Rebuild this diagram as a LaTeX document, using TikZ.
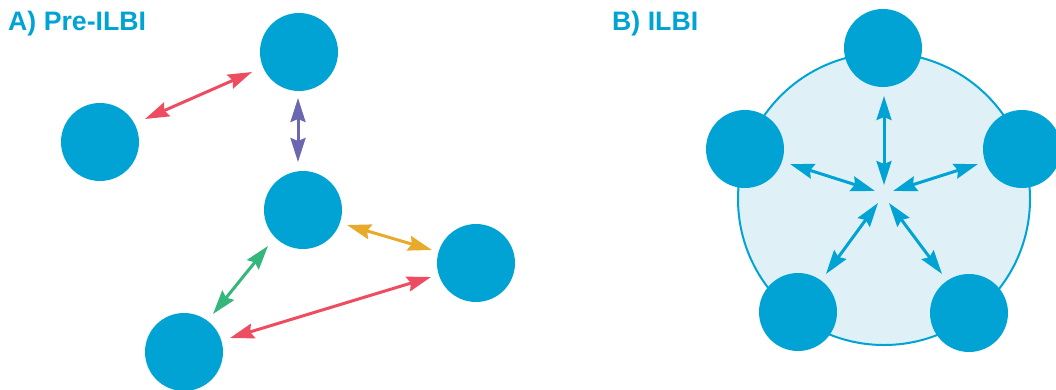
\documentclass[tikz,border=0pt]{standalone}
\usepackage{fontspec}
\setmainfont{Liberation Sans}
\usetikzlibrary{arrows.meta}
\definecolor{nodeblue}{HTML}{00A3D4}
\definecolor{lightfill}{HTML}{DFF1F6}
\definecolor{redarr}{HTML}{EE4C60}
\definecolor{purplearr}{HTML}{6B67B0}
\definecolor{orangearr}{HTML}{E8AA2A}
\definecolor{greenarr}{HTML}{35B67B}
\begin{document}
\begin{tikzpicture}[x=1pt,y=-1pt,
  agent/.style={circle,fill=nodeblue,minimum size=78pt,inner sep=0pt},
  link/.style={line width=3pt,{Stealth[length=24pt,width=15pt,inset=3pt]}-{Stealth[length=24pt,width=15pt,inset=3pt]}},
  paneltitle/.style={anchor=west,text=nodeblue,font=\fontsize{26.7pt}{30pt}\selectfont\bfseries,inner sep=0pt}]
\useasboundingbox (0,0) rectangle (1056,389);
% Panel A
\node[paneltitle] (ta) at (8,24) {A) Pre-ILBI};
\node[agent] (a1) at (299,52) {};
\node[agent] (a2) at (100,142) {};
\node[agent] (a3) at (303,210) {};
\node[agent] (a4) at (476,263) {};
\node[agent] (a5) at (184,352) {};
\coordinate (p1s) at (145,119); \coordinate (p1e) at (252,72);
\coordinate (p2s) at (298,98); \coordinate (p2e) at (298,162);
\coordinate (p3s) at (347,225); \coordinate (p3e) at (432,250);
\coordinate (p4s) at (268,246); \coordinate (p4e) at (213,314);
\coordinate (p5s) at (230,338); \coordinate (p5e) at (431,277);
\draw[link,redarr] (p1s) -- (p1e);
\draw[link,purplearr] (p2s) -- (p2e);
\draw[link,orangearr] (p3s) -- (p3e);
\draw[link,greenarr] (p4s) -- (p4e);
\draw[link,redarr] (p5s) -- (p5e);
% Panel B
\node[paneltitle] (tb) at (612,24) {B) ILBI};
\node[circle,fill=lightfill,draw=nodeblue,line width=2pt,minimum size=292pt,inner sep=0pt] (big) at (884,199) {};
\node[agent] (b1) at (883,48) {};
\node[agent] (b2) at (745,149) {};
\node[agent] (b3) at (1022,149) {};
\node[agent] (b4) at (798,312) {};
\node[agent] (b5) at (969,313) {};
\coordinate (q1s) at (884,96); \coordinate (q1e) at (884,185);
\coordinate (q2s) at (790,164); \coordinate (q2e) at (875,191);
\coordinate (q3s) at (978,164); \coordinate (q3e) at (893,191);
\coordinate (q4s) at (826,274); \coordinate (q4e) at (878,203);
\coordinate (q5s) at (942,274); \coordinate (q5e) at (889,203);
\draw[link,nodeblue] (q1s) -- (q1e);
\draw[link,nodeblue] (q2s) -- (q2e);
\draw[link,nodeblue] (q3s) -- (q3e);
\draw[link,nodeblue] (q4s) -- (q4e);
\draw[link,nodeblue] (q5s) -- (q5e);
\end{tikzpicture}
\end{document}
